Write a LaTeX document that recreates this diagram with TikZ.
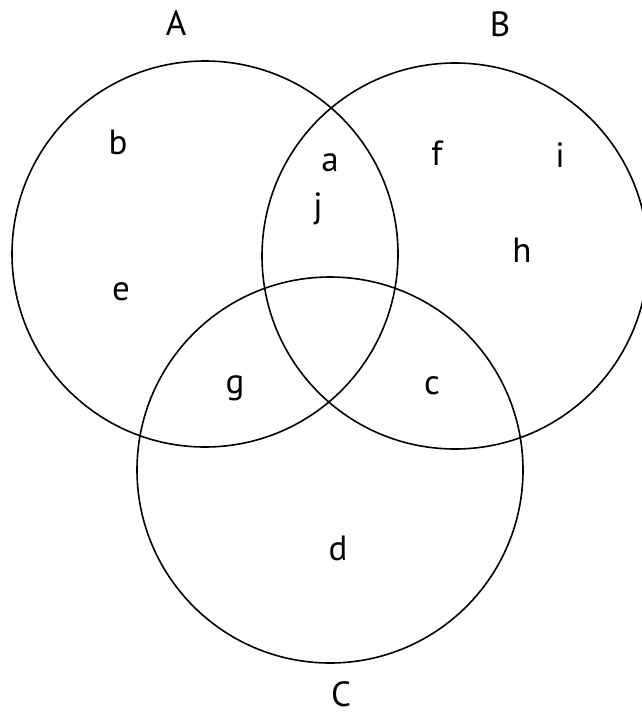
\documentclass[tikz,border=0pt]{standalone}
\usepackage{fontspec}
\setmainfont{PT Sans}

\begin{document}
\begin{tikzpicture}[x=1pt, y=-1pt,
    setring/.style={draw=black, line width=1.6pt},
    setname/.style={inner sep=0, font=\fontsize{35}{40}\selectfont},
    member/.style={inner sep=0, font=\fontsize{35}{40}\selectfont}]
    \useasboundingbox (0,0) rectangle (641,715);

    % the three sets
    \draw[setring] (205,254) circle (193);
    \draw[setring] (455,256) circle (193);
    \draw[setring] (330,470) circle (193);

    % set names
    \node[setname] (nameA) at (176,23) {A};
    \node[setname] (nameB) at (500,24) {B};
    \node[setname] (nameC) at (341,694) {C};

    % elements
    \node[member] (elb) at (118,142) {b};
    \node[member] (ela) at (330,163) {a};
    \node[member] (elf) at (437,153) {f};
    \node[member] (eli) at (560,155) {i};
    \node[member] (elj) at (318,209) {j};
    \node[member] (elh) at (522,250) {h};
    \node[member] (ele) at (121,292) {e};
    \node[member] (elg) at (235,388) {g};
    \node[member] (elc) at (432,386) {c};
    \node[member] (eld) at (338,548) {d};
\end{tikzpicture}
\end{document}
